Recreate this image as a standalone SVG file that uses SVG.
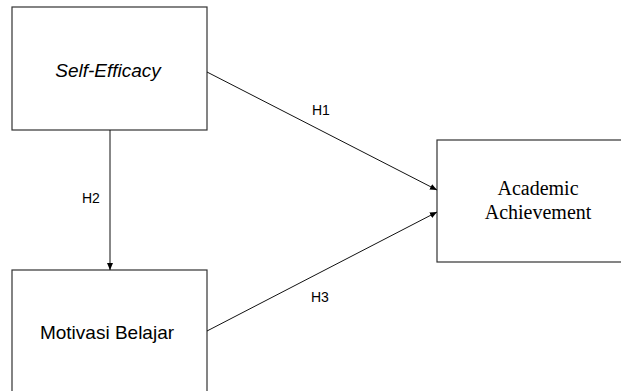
<svg xmlns="http://www.w3.org/2000/svg" width="621" height="391" viewBox="0 0 621 391">
<defs>
<marker id="ah" markerWidth="8" markerHeight="8" refX="7" refY="4" orient="auto" markerUnits="userSpaceOnUse">
<path d="M0,1 L7,4 L0,7 Z" fill="#000"/>
</marker>
<style>
.box{fill:#fff;stroke:#333;stroke-width:1.2}
.sans{font-family:"Liberation Sans",Arial,sans-serif;fill:#000}
.serif{font-family:"Liberation Serif","Times New Roman",serif;fill:#000}
.edge{stroke:#111;stroke-width:1;fill:none;marker-end:url(#ah)}
</style>
</defs>
<rect width="621" height="391" fill="#fff"/>
<g id="self-efficacy">
<rect class="box" x="12" y="7" width="195" height="123"/>
<text class="sans" x="108" y="77" font-size="19" font-style="italic" text-anchor="middle">Self-Efficacy</text>
</g>
<g id="motivasi-belajar">
<rect class="box" x="12" y="270" width="195" height="130"/>
<text class="sans" x="107" y="339" font-size="19" text-anchor="middle">Motivasi Belajar</text>
</g>
<g id="academic-achievement">
<rect class="box" x="437" y="140" width="200" height="122"/>
<text class="serif" x="538" y="195" font-size="20" text-anchor="middle">Academic</text>
<text class="serif" x="538" y="219" font-size="20" text-anchor="middle">Achievement</text>
</g>
<g id="connectors">
<line class="edge" x1="110" y1="130" x2="110" y2="270"/>
<line class="edge" x1="207" y1="72" x2="437" y2="190"/>
<line class="edge" x1="207" y1="331" x2="437" y2="212"/>
<text class="sans" x="82" y="203" font-size="14">H2</text>
<text class="sans" x="312" y="115" font-size="14">H1</text>
<text class="sans" x="311" y="302" font-size="14">H3</text>
</g>
</svg>
